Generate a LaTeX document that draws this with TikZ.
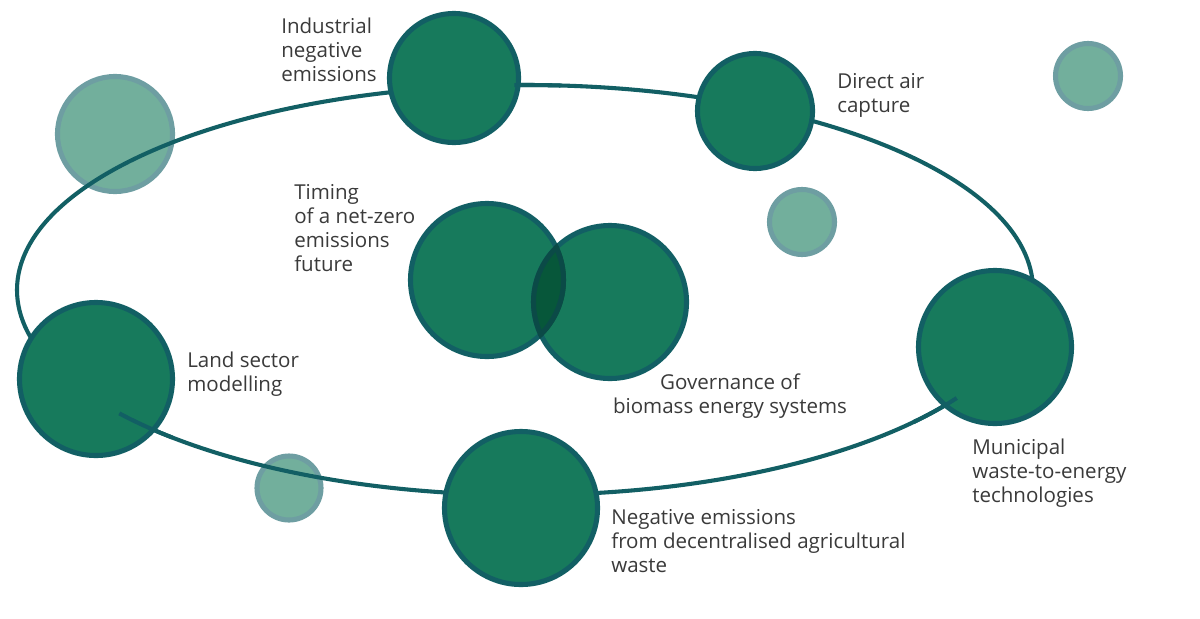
\documentclass[tikz,border=0pt]{standalone}
\usepackage{fontspec}
\setmainfont{Open Sans}
\usepackage{xcolor}
\usetikzlibrary{calc}
\definecolor{hubgreen}{HTML}{177A5C}
\definecolor{ringteal}{HTML}{125F64}
\definecolor{lensgreen}{HTML}{07573A}
\definecolor{lensring}{HTML}{0B4A47}
\definecolor{dotgreen}{HTML}{72AF9C}
\definecolor{dotring}{HTML}{6E9EA2}
\definecolor{inkgrey}{HTML}{3A3A3A}

\begin{document}
\begin{tikzpicture}[
  x=0.025cm, y=-0.025cm,
  hub/.style={circle, draw=ringteal, fill=hubgreen, line width=3.6pt,
              inner sep=0pt, minimum size=#1},
  dot/.style={circle, draw=dotring, fill=dotgreen, line width=3.6pt,
              inner sep=0pt, minimum size=#1},
  orbit/.style={draw=ringteal, line width=2.9pt},
  caption/.style={anchor=north west, align=left, inner sep=0pt,
                  text=inkgrey, font=\fontsize{14.6pt}{17pt}\selectfont},
]
\useasboundingbox (0,0) rectangle (1200,618);

% --- pale dots (under the orbit) ---
\node[dot=2.875cm] (dotnw)  at (115,134) {};
\node[dot=1.6cm]   (dotsw)  at (289,488) {};
\node[dot=1.625cm] (dotne)  at (1088,76) {};
\node[dot=1.625cm] (dotmid) at (802,222) {};

% --- orbit ---
\coordinate (hubcentre) at (525,290);
\draw[orbit] (hubcentre) ellipse [x radius=508, y radius=205];

% --- main topics ---
\node[hub=3.225cm] (industrial) at (454,78)  {};
\node[hub=2.875cm] (dac)        at (755,111) {};
\node[hub=3.825cm] (land)       at (96,379)  {};
\node[hub=3.825cm] (negative)   at (521,508) {};
\node[hub=3.825cm] (municipal)  at (995,347) {};
\node[hub=3.825cm] (timing)     at (487,280) {};
\node[hub=3.825cm] (governance) at (610,302) {};

% overlap of timing and governance
\begin{scope}
  \clip (timing.center) circle [radius=79];
  \fill[lensgreen] (governance.center) circle [radius=76.5];
  \draw[lensring, line width=3.6pt] (governance.center) circle [radius=76.5];
\end{scope}
\begin{scope}
  \clip (governance.center) circle [radius=79];
  \draw[lensring, line width=3.6pt] (timing.center) circle [radius=76.5];
\end{scope}

% orbit ends poking into the circles
\draw[orbit] ($(hubcentre)+(143:508 and 205)$) arc [start angle=143, end angle=134, x radius=508, y radius=205];
\draw[orbit] ($(hubcentre)+(31.8:508 and 205)$) arc [start angle=31.8, end angle=40, x radius=508, y radius=205];
\draw[orbit] ($(hubcentre)+(-91.2:508 and 205)$) arc [start angle=-91.2, end angle=-86, x radius=508, y radius=205];

% --- captions ---
\node[caption] (capindustrial) at (281,18)  {Industrial\\negative\\emissions};
\node[caption] (capdac)        at (837,73)  {Direct air\\capture};
\node[caption] (captiming)     at (294,184) {Timing\\of a net-zero\\emissions\\future};
\node[caption] (capland)       at (187,352) {Land sector\\modelling};
\node[caption, anchor=north, align=center] (capgovernance) at (730,374) {Governance of\\biomass energy systems};
\node[caption] (capmunicipal)  at (972,439) {Municipal\\waste-to-energy\\technologies};
\node[caption] (capnegative)   at (611,509) {Negative emissions\\from decentralised agricultural\\waste};

\end{tikzpicture}
\end{document}
